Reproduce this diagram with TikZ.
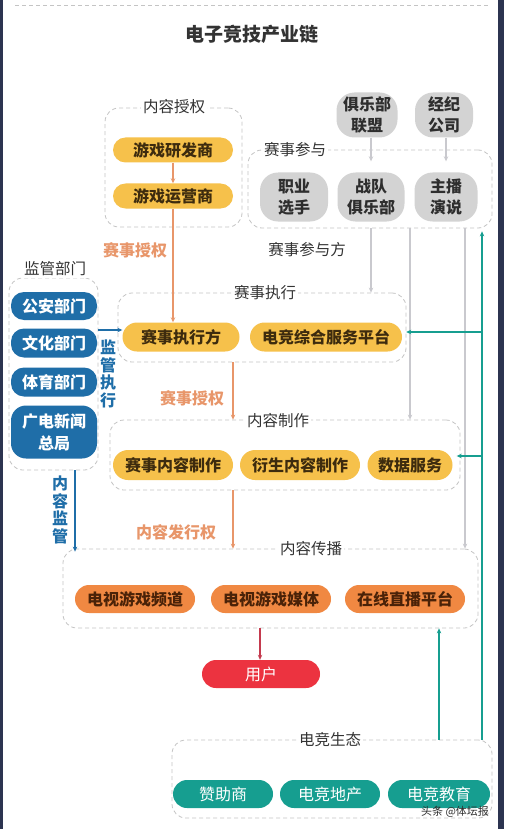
\documentclass[tikz,border=0pt]{standalone}
\usepackage{fontspec}
\setmainfont{Noto Sans CJK SC}
\usetikzlibrary{shapes.misc,arrows.meta}
\definecolor{navy}{HTML}{2C3450}
\definecolor{yel}{HTML}{F6C14B}
\definecolor{yeltx}{HTML}{3D2B0E}
\definecolor{gry}{HTML}{D3D3D3}
\definecolor{grytx}{HTML}{2E2E2E}
\definecolor{blu}{HTML}{1F6EA8}
\definecolor{org}{HTML}{F08842}
\definecolor{orgtx}{HTML}{4A2208}
\definecolor{redc}{HTML}{EC3340}
\definecolor{tea}{HTML}{169E90}
\definecolor{arrorg}{HTML}{E8966A}
\definecolor{arrgry}{HTML}{C9C9CE}
\definecolor{arrred}{HTML}{C43A4E}
\definecolor{grpc}{HTML}{C4C4C4}
\definecolor{txt}{HTML}{333333}
\tikzset{
  grp/.style={draw=grpc, dash pattern=on 4pt off 3pt, rounded corners=14pt, line width=0.8pt, inner sep=0pt},
  glabel/.style={fill=white, inner sep=2pt, text=txt, font=\fontsize{15.5}{18}\selectfont},
  nfont/.style={font=\bfseries\fontsize{16}{21}\selectfont},
  ypill/.style={rounded rectangle, fill=yel, text=yeltx, nfont, inner sep=0pt, minimum height=29pt},
  opill/.style={rounded rectangle, fill=org, text=orgtx, nfont, inner sep=0pt, minimum width=120pt, minimum height=28pt},
  tpill/.style={rounded rectangle, fill=tea, text=white, font=\fontsize{16}{19}\selectfont, inner sep=0pt, minimum width=100pt, minimum height=28pt},
  bbox/.style={rectangle, rounded corners=13pt, fill=blu, text=white, nfont, inner sep=0pt, minimum width=86pt, align=center},
  gbox/.style={rectangle, rounded corners=18pt, fill=gry, text=grytx, nfont, inner sep=0pt, align=center, minimum height=47pt},
  arr/.style={-{Stealth[length=5pt,width=4.5pt]}, line width=1.2pt},
  oarr/.style={arr, draw=arrorg},
  garr/.style={arr, draw=arrgry},
  barr/.style={arr, draw=blu},
  tarr/.style={arr, draw=tea, line width=1.6pt},
  olabel/.style={text=arrorg, font=\bfseries\fontsize{16}{19}\selectfont},
  vlabel/.style={text=blu, font=\bfseries\fontsize{16}{17.5}\selectfont, align=center, inner sep=0pt}
}
\begin{document}
\begin{tikzpicture}[x=1pt,y=-1pt]
\useasboundingbox (0,0) rectangle (504,829);
\fill[white] (0,0) rectangle (504,829);
\fill[navy] (0,0) rectangle (3,829);
\fill[navy] (498,0) rectangle (504,829);
\draw[grpc, dash pattern=on 4pt off 3pt, line width=0.8pt] (15,5) -- (489,5);

\node[font=\bfseries\fontsize{19}{22}\selectfont, text=txt] (title) at (252,34) {电子竞技产业链};

% group boxes
\node[grp, minimum width=137pt, minimum height=119pt] (gnr) at (173.5,167.5) {};
\node[grp, minimum width=244pt, minimum height=78pt] (gcs) at (370,189) {};
\node[grp, minimum width=89pt, minimum height=192pt] (gjg) at (53.5,374) {};
\node[grp, minimum width=288pt, minimum height=69pt] (gzx) at (262,327.5) {};
\node[grp, minimum width=350pt, minimum height=70pt] (gnz) at (285,455) {};
\node[grp, minimum width=415pt, minimum height=79pt] (gcb) at (270.5,588.5) {};
\node[grp, minimum width=320pt, minimum height=78pt] (gst) at (332,779) {};

% group labels
\node[glabel] (lnr) at (174,107) {内容授权};
\node[glabel] (lcs) at (295,150) {赛事参与};
\node[glabel] (ljg) at (55,269) {监管部门};
\node[glabel] (lzx) at (265,293) {赛事执行};
\node[glabel] (lnz) at (278,421) {内容制作};
\node[glabel] (lcb) at (311,549) {内容传播};
\node[glabel] (lst) at (330,740) {电竞生态};
\node[text=txt, font=\fontsize{15.5}{18}\selectfont] (lcsf) at (307,250) {赛事参与方};

% content authorization
\node[ypill, minimum width=120pt, minimum height=25pt] (yf) at (173,150) {游戏研发商};
\node[ypill, minimum width=120pt, minimum height=25pt] (yy) at (173,196) {游戏运营商};

% participants
\node[gbox, minimum width=61pt, minimum height=45pt] (lm) at (367,115) {俱乐部\\联盟};
\node[gbox, minimum width=58pt, minimum height=45pt] (jj) at (444,115) {经纪\\公司};
\node[gbox, minimum width=68pt, minimum height=49pt] (zy) at (294,197) {职业\\选手};
\node[gbox, minimum width=67pt, minimum height=49pt] (zd) at (371,197) {战队\\俱乐部};
\node[gbox, minimum width=63pt, minimum height=49pt] (zb) at (446,197) {主播\\演说};

% regulators
\node[bbox, minimum height=28pt] (ga) at (54,306) {公安部门};
\node[bbox, minimum height=29pt] (wh) at (54,343) {文化部门};
\node[bbox, minimum height=29pt] (ty) at (54,382) {体育部门};
\node[bbox, minimum height=53pt, rounded corners=15pt, font=\bfseries\fontsize{16}{22}\selectfont] (gd) at (54,432) {广电新闻\\总局};
\node[vlabel] (vjg) at (108,374) {监\\管\\执\\行};
\node[vlabel] (vnr) at (60,510) {内\\容\\监\\管};

% execution
\node[ypill, minimum width=117pt] (zxf) at (181,337) {赛事执行方};
\node[ypill, minimum width=152pt] (dz) at (326,337) {电竞综合服务平台};

% production
\node[ypill, minimum width=120pt, minimum height=30pt] (sn) at (173,465) {赛事内容制作};
\node[ypill, minimum width=120pt, minimum height=30pt] (ys) at (300,465) {衍生内容制作};
\node[ypill, minimum width=85pt, minimum height=30pt] (sj) at (410,465) {数据服务};

% distribution
\node[opill] (pd) at (135,599) {电视游戏频道};
\node[opill] (mt) at (271,599) {电视游戏媒体};
\node[opill] (zbp) at (405,599) {在线直播平台};

\node[rounded rectangle, fill=redc, text=white, font=\fontsize{16}{19}\selectfont, minimum width=118pt, minimum height=28pt, inner sep=0pt] (yh) at (261,674) {用户};

% ecosystem
\node[tpill] (zz) at (223,794) {赞助商};
\node[tpill] (dc) at (330,794) {电竞地产};
\node[tpill, minimum width=102pt] (jy) at (439,794) {电竞教育};

% orange labels
\node[olabel] (lsq1) at (135,250) {赛事授权};
\node[olabel] (lsq2) at (192,398) {赛事授权};
\node[olabel] (lfx) at (176,532) {内容发行权};

% helper coordinates
\coordinate (xo) at (233,0);
\coordinate (xg3) at (465,0);
\coordinate (xt) at (482,0);
\coordinate (xb) at (75,0);
\coordinate (xr) at (260,0);

% orange arrows
\draw[oarr] (yf.south) -- (yy.north);
\draw[oarr] (yy.south) -- (yy.south |- zxf.north);
\draw[oarr] (gzx.south -| xo) -- (gnz.north -| xo);
\draw[oarr] (gnz.south -| xo) -- (gcb.north -| xo);

% gray arrows
\draw[garr, shorten >=11pt] (lm.south -| zd) -- (zd.north);
\draw[garr, shorten >=11pt] (jj.south -| zb) -- (zb.north);
\draw[garr] (gcs.south -| zd) -- (gzx.north -| zd);
\draw[garr] (gcs.south -| sj) -- (gnz.north -| sj);
\draw[garr] (gcs.south -| xg3) -- (gcb.north -| xg3);

% blue arrows
\coordinate (jgend) at ([yshift=7pt]zxf.west);
\draw[barr] (gjg.east |- jgend) -- (jgend);
\draw[barr] (gjg.south -| xb) -- ([yshift=-3pt]gcb.north -| xb);

% red arrow
\draw[arr, draw=arrred] (gcb.south -| xr) -- (yh.north -| xr);

% teal arrows
\draw[tarr, shorten >=-1pt] (gst.north -| xt) -- ([yshift=-4pt]gcs.south -| xt);
\draw[tarr] ([yshift=5pt]dz.east -| xt) -- ([yshift=5pt,xshift=4pt]dz.east);
\draw[tarr] ([yshift=9pt]sj.east -| xt) -- ([yshift=9pt,xshift=4pt]sj.east);
\draw[tarr] (gst.north -| jy) -- (gcb.south -| jy);

\node[text=grytx, font=\fontsize{11}{13}\selectfont] (wm) at (455,812) {头条 @体坛报};
\end{tikzpicture}
\end{document}
